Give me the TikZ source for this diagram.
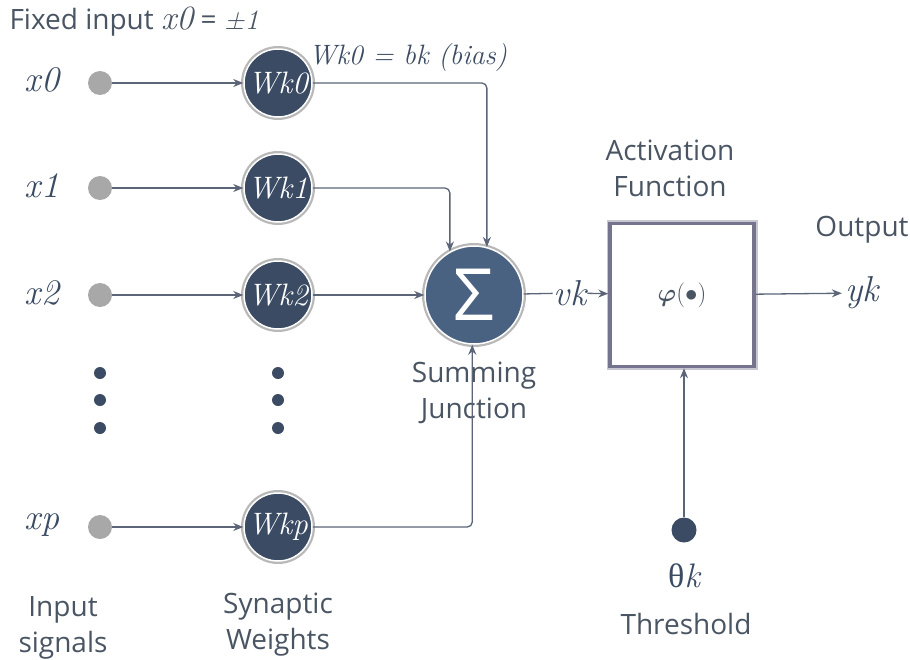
\documentclass[tikz,border=0pt]{standalone}
\usepackage{amsmath}
\usepackage{bm}
\usepackage{fontspec}
\setmainfont{Open Sans}
\newfontfamily\scr{Latin Modern Roman}
\newfontfamily\grk{Liberation Serif}
\usetikzlibrary{arrows.meta}
\definecolor{navy}{HTML}{3A4B63}
\definecolor{sumc}{HTML}{4A6282}
\definecolor{linec}{HTML}{5B6577}
\definecolor{txt}{HTML}{4A5563}
\definecolor{dotgray}{HTML}{A8A8A8}
\definecolor{ringgray}{HTML}{B8B8B8}
\definecolor{boxc}{HTML}{74748E}
\newcommand{\scrit}[1]{{\scr\itshape #1}}
\begin{document}
\begin{tikzpicture}[x=1pt,y=-1pt,
  every node/.style={text=txt},
  sans/.style={font=\fontsize{28}{36}\selectfont, align=center},
  lab/.style={font=\fontsize{36}{40}\selectfont\scr\itshape, text=navy},
  indot/.style={circle, fill=dotgray, minimum size=24pt, inner sep=0pt},
  edot/.style={circle, fill=navy, minimum size=12pt, inner sep=0pt},
  wt/.style={circle, fill=navy, draw=white, line width=1.5pt, minimum size=68pt, inner sep=0pt,
    preaction={draw=ringgray, line width=6pt}, text=white,
    font=\fontsize{31}{34}\selectfont\scr\itshape},
  sumnode/.style={circle, fill=sumc, draw=white, line width=1.5pt, minimum size=98pt, inner sep=0pt,
    preaction={draw=ringgray, line width=6pt}, text=white,
    font=\fontsize{72}{72}\selectfont},
  actbox/.style={draw=boxc, line width=3.5pt, fill=white, minimum width=144pt, minimum height=143pt, inner sep=0pt,
    preaction={draw=boxc!40, line width=7pt}},
  conn/.style={draw=linec, line width=1.3pt},
  tip/.style={-{Stealth[length=10pt,width=8pt]}}
]
\useasboundingbox (0,0) rectangle (910,659);

% title text
\node[sans, anchor=west] (fixed) at (6,22) {Fixed input \scrit{\fontsize{34}{36}\selectfont x0} = \scrit{±1}};

% inputs
\node[lab] (x0) at (42,80) {x0};
\node[lab] (x1) at (42,186) {x1};
\node[lab] (x2) at (42,293) {x2};
\node[lab] (xp) at (42,525) {xp};

\node[indot] (i0) at (100,83) {};
\node[indot] (i1) at (100,188) {};
\node[indot] (i2) at (100,295) {};
\node[indot] (ip) at (100,527) {};

\node[edot] (d1) at (100,373) {};
\node[edot] (d2) at (100,400) {};
\node[edot] (d3) at (100,428) {};
\node[edot] (e1) at (278,373) {};
\node[edot] (e2) at (278,400) {};
\node[edot] (e3) at (278,428) {};

\node[wt] (w0) at (278,83) {Wk0};
\node[wt] (w1) at (278,188) {Wk1};
\node[wt] (w2) at (278,295) {Wk2};
\node[wt] (wp) at (278,527) {Wkp};

\node[font=\fontsize{28}{30}\selectfont\scr\itshape, text=navy] (bias) at (408,58) {Wk0 = bk (bias)};

\node[sumnode] (s) at (474,295) {Σ};
\node[sans] (sj) at (474,393) {Summing\\Junction};

\node[lab, inner sep=1pt] (vk) at (570,293) {vk};

\node[actbox] (a) at (682,295) {\fontsize{32}{34}\selectfont$\bm{\varphi}(\bullet)$};
\node[sans] (af) at (670,168) {Activation\\Function};

\node[lab] (yk) at (862,293) {yk};
\node[sans] (out) at (862,230) {Output};

\node[circle, fill=navy, minimum size=25pt, inner sep=0pt] (th) at (684,530) {};
\node[font=\fontsize{34}{36}\selectfont, text=navy] (thk) at (684,576) {{\grk θ}\scrit{k}};
\node[sans] (thl) at (686,624) {Threshold};

\node[sans] (is) at (63,628) {Input\\signals};
\node[sans] (sw) at (278,625) {Synaptic\\Weights};

% connectors
\draw[conn, tip] (i0) -- (w0);
\draw[conn, tip] (i1) -- (w1);
\draw[conn, tip] (i2) -- (w2);
\draw[conn, tip] (ip) -- (wp);

\draw[conn, tip, rounded corners=5pt] (w0.east) -| (s.75);
\draw[conn, tip, rounded corners=5pt] (w1.east) -| (s.119);
\draw[conn, tip] (w2) -- (s);
\draw[conn, tip, rounded corners=5pt] (wp.east) -| (s.268);

\draw[conn] (s) -- (vk);
\draw[conn, tip] (vk) -- (a);
\draw[conn, tip] (a) -- (yk);
\draw[conn, tip] (th) -- (th |- a.south);
\end{tikzpicture}
\end{document}
